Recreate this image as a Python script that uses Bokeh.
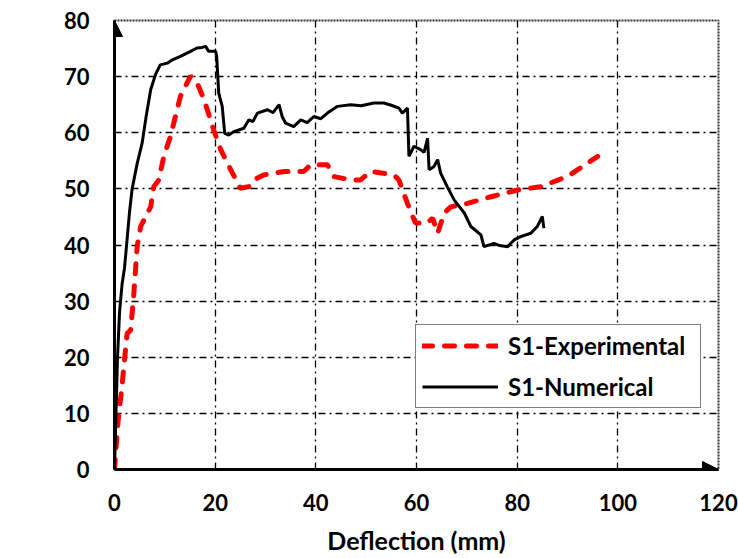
import math
from bokeh.plotting import figure
from bokeh.models import (Range1d, FixedTicker, Arrow, NormalHead, Label, Legend, LegendItem)
from bokeh.embed import file_html
from bokeh.resources import INLINE

# ---- data ----
exp_x = [0, 0.4, 0.85, 1.4, 1.85, 2.5, 3.2, 3.8, 4.5, 5.2, 6.2, 7.2, 7.8, 8.8, 9.8, 11.1,
         13.1, 15.1, 16.4, 17.8, 19.7, 21.1, 23.1, 25.0, 26.7, 27.7, 29.7, 33.7, 37.6, 39.0,
         42.3, 43.6, 46.9, 48.9, 50.9, 55.5, 56.5, 58.2, 59.8, 62.1, 63.2, 64.2, 65.5, 66.8,
         70.1, 74.8, 80.1, 84.7, 90.0, 96.0]
exp_y = [0, 5, 10, 14, 18.3, 24.2, 24.8, 30.8, 39.7, 43.3, 45.1, 46.8, 50.4, 51.6, 55.8, 59.3,
         66.5, 70.1, 68.9, 65.9, 60.5, 57.0, 53.4, 50.1, 50.4, 51.6, 52.5, 53.1, 53.1, 54.3,
         54.3, 52.2, 51.6, 51.6, 53.1, 52.5, 51.6, 47.4, 43.9, 43.9, 44.8, 42.1, 45.7, 46.8,
         47.4, 48.6, 49.8, 50.4, 52.2, 55.8]

num_x = [0, 0.3, 0.6, 1.0, 1.5, 2.0, 2.5, 3.0, 3.5, 4.5, 5.5, 6.3, 7.2, 8.2, 9.1, 10.5, 11.5,
         13.1, 15.1, 16.4, 17.4, 18.1, 18.7, 20.1, 20.3, 20.7, 21.4, 21.9, 22.7, 23.7, 25.7,
         26.7, 27.5, 28.4, 30.4, 31.5, 32.7, 33.3, 34.0, 35.6, 37.0, 38.3, 39.6, 41.0, 42.3,
         44.3, 46.9, 49.0, 51.5, 53.5, 55.0, 56.5, 57.2, 58.2, 58.5, 59.5, 60.8, 61.5, 62.2,
         62.5, 63.5, 64.2, 64.8, 66.1, 67.5, 69.5, 70.8, 72.8, 73.4, 75.4, 76.5, 78.1, 79.4,
         80.7, 82.7, 84.0, 85.0, 85.3]
num_y = [0, 10, 20, 28, 33, 36, 41, 46, 50, 54.5, 58.2, 63, 67.7, 70.5, 72.1, 72.4, 73.0,
         73.6, 74.5, 75.1, 75.2, 75.4, 74.5, 74.5, 73.6, 67.1, 64.7, 59.9, 59.6, 60.2, 60.8,
         62.3, 62.0, 63.5, 64.1, 63.6, 65.0, 62.9, 61.7, 61.1, 62.3, 61.8, 62.9, 62.5, 63.5,
         64.7, 65.0, 64.8, 65.3, 65.3, 64.9, 64.4, 63.5, 64.4, 55.8, 57.6, 57.0, 56.5, 59.0,
         53.4, 54.0, 55.2, 52.8, 50.4, 48.0, 45.7, 43.3, 41.8, 39.7, 40.3, 39.9, 39.7, 40.9,
         41.5, 42.1, 43.3, 45.1, 43.0]

x_ticks = [0, 20, 40, 60, 80, 100, 120]
y_ticks = [0, 10, 20, 30, 40, 50, 60, 70, 80]
series_names = ["S1-Experimental", "S1-Numerical"]
x_title = "Deflection (mm)"
y_title = "Load (kN)"

FONT = "Lato"

p = figure(width=738, height=558, output_backend="svg", toolbar_location=None,
           x_range=Range1d(0, 120), y_range=Range1d(0, 80),
           min_border_left=114, min_border_right=20, min_border_top=20, min_border_bottom=89)
p.background_fill_color = "white"
p.border_fill_color = "white"
p.outline_line_color = "#333333"
p.outline_line_width = 2
p.outline_line_dash = "2 1"

for ax, ticks in ((p.xaxis[0], x_ticks), (p.yaxis[0], y_ticks)):
    ax.ticker = FixedTicker(ticks=ticks)
    ax.axis_line_color = "black"
    ax.axis_line_width = 3
    ax.major_tick_line_color = None
    ax.minor_tick_line_color = None
    ax.major_tick_out = 0
    ax.major_tick_in = 0
    ax.major_label_text_font = FONT
    ax.major_label_text_font_style = "bold"
    ax.major_label_text_font_size = "22px"
    ax.major_label_text_color = "black"
p.xaxis.major_label_standoff = 24
p.yaxis.major_label_standoff = 25

p.xaxis.axis_label = x_title
p.xaxis.axis_label_text_font = FONT
p.xaxis.axis_label_text_font_style = "bold"
p.xaxis.axis_label_text_font_size = "25px"
p.xaxis.axis_label_text_color = "black"
p.xaxis.axis_label_standoff = 11

p.xgrid.ticker = FixedTicker(ticks=[20, 40, 60, 80, 100])
p.ygrid.ticker = FixedTicker(ticks=[10, 20, 30, 40, 50, 60, 70])
for g in (p.xgrid[0], p.ygrid[0]):
    g.grid_line_color = "black"
    g.grid_line_width = 1.3
    g.grid_line_dash = "7 4 2 4"

r_exp = p.line(exp_x, exp_y, line_color="#ff0000", line_width=5, line_dash="10 12",
               line_cap="round")
r_num = p.line(num_x, num_y, line_color="black", line_width=3)

# axis arrows
p.add_layout(Arrow(end=NormalHead(size=16, fill_color="black", line_color="black"),
                   x_start=0, y_start=0, x_end=0, y_end=80, line_width=3, line_color="black"))
p.add_layout(Arrow(end=NormalHead(size=16, fill_color="black", line_color="black"),
                   x_start=0, y_start=0, x_end=120, y_end=0, line_width=3, line_color="black"))

p.add_layout(Label(x=-17.3, y=36.4, text=y_title, angle=math.pi / 2,
                   text_align="center", text_baseline="middle",
                   text_font=FONT, text_font_style="bold", text_font_size="25px",
                   text_color="black"))

legend = Legend(items=[LegendItem(label=series_names[0], renderers=[r_exp]),
                       LegendItem(label=series_names[1], renderers=[r_num])],
                location=(301, 61))
legend.border_line_color = "black"
legend.border_line_width = 1.5
legend.background_fill_color = "white"
legend.background_fill_alpha = 1
legend.label_text_font = FONT
legend.label_text_font_style = "bold"
legend.label_text_font_size = "24px"
legend.label_text_color = "black"
legend.glyph_width = 76
legend.glyph_height = 25
legend.label_height = 25
legend.label_width = 186
legend.label_standoff = 10
legend.padding = 6
legend.spacing = 12
legend.margin = 0
p.add_layout(legend)

open("out.html", "w").write(file_html(p, INLINE))
